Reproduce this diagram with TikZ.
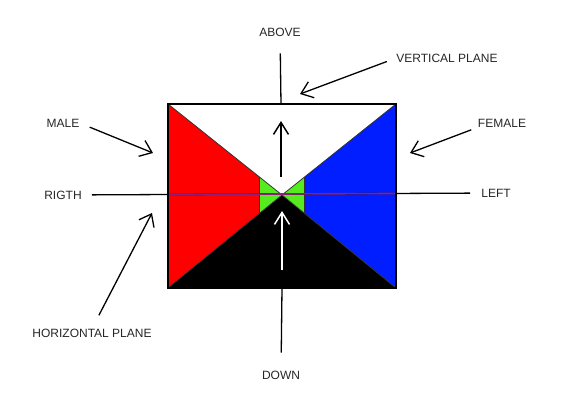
\documentclass[tikz,border=0pt]{standalone}
\usepackage{fontspec}
\setmainfont{Liberation Sans}
\usetikzlibrary{arrows.meta,calc}
\definecolor{malered}{RGB}{255,0,0}
\definecolor{femaleblue}{RGB}{0,30,255}
\definecolor{midgreen}{RGB}{85,235,30}
\definecolor{planeline}{RGB}{140,30,125}
\tikzset{
  lbl/.style={font=\fontsize{12}{14}\selectfont, text=black!85, inner sep=0pt},
  pointer/.style={-{Straight Barb[length=11pt,width=17pt]}, line width=1.3pt},
  inner/.style={-{Straight Barb[length=12pt,width=15pt]}, line width=1.5pt},
  axis/.style={line width=1.3pt},
  seam/.style={line width=0.8pt, black!80},
}

\begin{document}
\begin{tikzpicture}[x=1pt,y=-1pt]
    \useasboundingbox (0,0) rectangle (566,405);
    \coordinate (tl) at (168,104);
    \coordinate (tr) at (396,104);
    \coordinate (bl) at (168,288);
    \coordinate (br) at (396,288);
    \coordinate (c) at (282,195);
    \coordinate (gtl) at ($(tl)!0.8!(c)$);
    \coordinate (gbl) at ($(bl)!0.8!(c)$);
    \coordinate (gtr) at ($(tr)!0.8!(c)$);
    \coordinate (gbr) at ($(br)!0.8!(c)$);
    \coordinate (topmid) at (281,104);
    \coordinate (botmid) at (282,288);

    \node[lbl] (above) at (280,32) {ABOVE};
    \node[lbl] (down) at (281,375) {DOWN};
    \node[lbl] (vplane) at (447,58) {VERTICAL PLANE};
    \node[lbl] (male) at (63,123) {MALE};
    \node[lbl] (female) at (502,123) {FEMALE};
    \node[lbl] (rigth) at (63,195) {RIGTH};
    \node[lbl] (left) at (496,193) {LEFT};
    \node[lbl] (hplane) at (92,333) {HORIZONTAL PLANE};

    \fill[white] (tl) -- (tr) -- (c) -- cycle;
    \fill[black] (bl) -- (c) -- (br) -- cycle;
    \fill[malered] (tl) -- (gtl) -- (gbl) -- (bl) -- cycle;
    \fill[femaleblue] (tr) -- (gtr) -- (gbr) -- (br) -- cycle;
    \fill[midgreen] (gtl) -- (c) -- (gbl) -- cycle;
    \fill[midgreen] (gtr) -- (c) -- (gbr) -- cycle;
    \draw[seam] (tl) -- (c) -- (br) (bl) -- (c) -- (tr);
    \draw[seam] (gtl) -- (gbl) (gtr) -- (gbr);

    \draw[axis, shorten <=10pt, shorten >=11pt] (rigth) -- (left);
    \begin{scope}
      \clip (tl) rectangle (br);
      \draw[axis, planeline, line width=1.6pt, shorten <=10pt, shorten >=11pt] (rigth) -- (left);
    \end{scope}
    \draw[line width=2pt] (tl) rectangle (br);

    \draw[axis, shorten <=17pt] (above) -- (topmid);
    \draw[axis, shorten >=18pt] (botmid) -- (down);
    \coordinate (upfrom) at (281,177);
    \coordinate (upto) at (281,121);
    \coordinate (dnfrom) at (282,270);
    \coordinate (dnto) at (282,211);
    \draw[inner] (upfrom) -- (upto);
    \draw[inner, white] (dnfrom) -- (dnto);

    \coordinate (vtip) at (300,94);
    \coordinate (mtip) at (153,153);
    \coordinate (ftip) at (410,153);
    \coordinate (htip) at (152,213);
    \draw[pointer, shorten <=10pt] (vplane.west) -- (vtip);
    \draw[pointer, shorten <=11pt] (male.east) -- (mtip);
    \draw[pointer, shorten <=7pt] (female.south west) -- (ftip);
    \draw[pointer, shorten <=15pt] (hplane.north) -- (htip);
\end{tikzpicture}
\end{document}
